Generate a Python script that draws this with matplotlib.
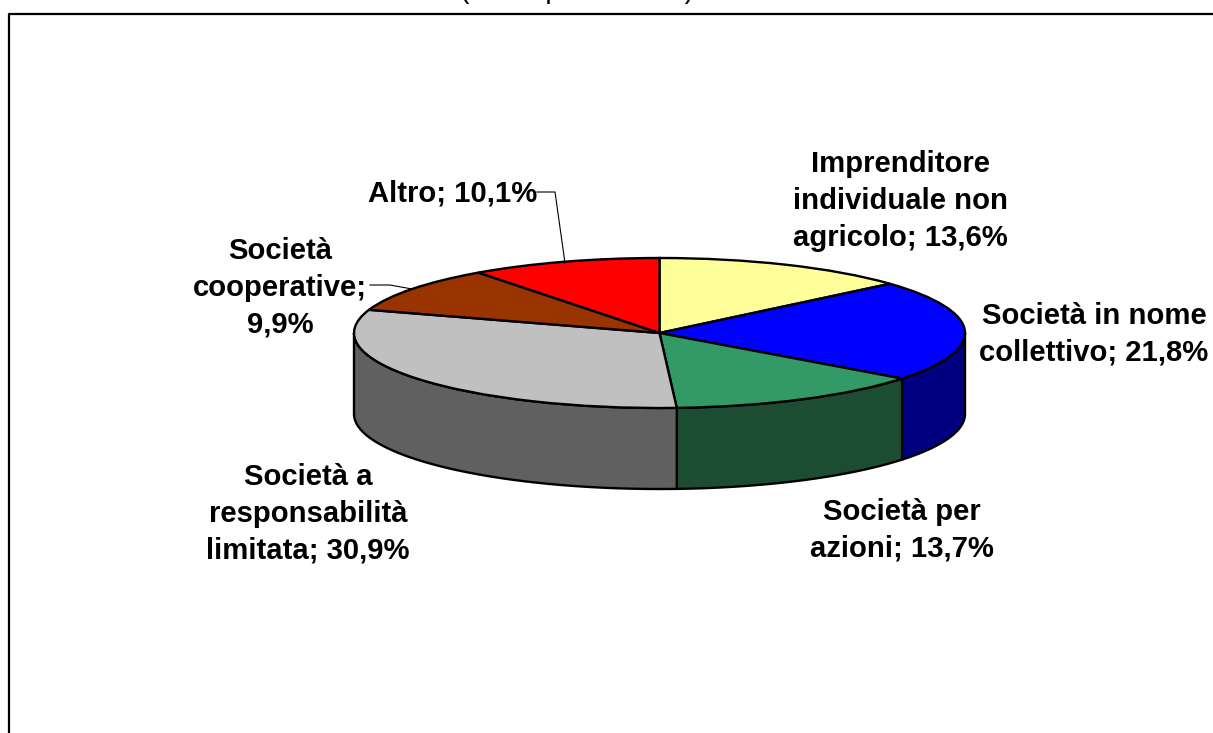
import numpy as np
import matplotlib
matplotlib.use("Agg")
import matplotlib.pyplot as plt

labels = ["Imprenditore\nindividuale non\nagricolo; 13,6%",
          "Società in nome\ncollettivo; 21,8%",
          "Società per\nazioni; 13,7%",
          "Società a\nresponsabilità\nlimitata; 30,9%",
          "Società\ncooperative;\n9,9%",
          "Altro; 10,1%"]
values = [13.6, 21.8, 13.7, 30.9, 9.9, 10.1]
top_colors = ["#FFFF99", "#0000FF", "#339966", "#C0C0C0", "#993300", "#FF0000"]
side_colors = ["#80804D", "#000080", "#1C4D33", "#606060", "#4D1A00", "#800000"]

# pixel positions of the labels (centre of each block)
label_x = [900, 1094, 902, 308, 280, 453]
label_y = [201, 334, 530, 514, 288, 194]

W, H = 1213, 733
cx, cy = 659.5, 333
rx, ry = 305.5, 75
depth = 81
label_px = 29.2

fig = plt.figure(figsize=(W / 100, H / 100), dpi=100)
ax = fig.add_axes([0, 0, 1, 1])
plt.rcParams["font.family"] = "Liberation Sans"

ax.pie(values, colors=top_colors, startangle=90, counterclock=False,
       wedgeprops=dict(edgecolor="black", linewidth=1.7, zorder=5))
ax.set_aspect("auto")
ax.set_xlim(-cx / rx, (W - cx) / rx)
ax.set_ylim((cy - H) / ry, cy / ry)
ax.set_frame_on(False)
ax.set_xticks([])
ax.set_yticks([])

# side wall: only the front half of the rim shows
edges = np.concatenate([[0], np.cumsum(values)]) / np.sum(values) * 360
d = depth / ry
for i in range(len(values)):
    a0, a1 = max(edges[i], 90), min(edges[i + 1], 270)
    if a1 <= a0:
        continue
    a = np.radians(np.linspace(a0, a1, 80))
    x, y = np.sin(a), np.cos(a)
    ax.fill(np.r_[x, x[::-1]], np.r_[y, y[::-1] - d], facecolor=side_colors[i],
            edgecolor="black", linewidth=1.7, zorder=3)


def px(x, y):
    return (x - cx) / rx, (cy - y) / ry


for t, x, y in zip(labels, label_x, label_y):
    ax.text(*px(x, y), t, ha="center", va="center", fontsize=label_px * 72 / 100,
            fontweight="bold", family="Liberation Sans", linespacing=1.395, zorder=7)

# leader lines
ax.plot(*zip(px(537, 192), px(555, 192), px(565, 263)), color="black", lw=0.8, zorder=6)
ax.plot(*zip(px(370, 285), px(390, 285), px(412, 289)), color="black", lw=0.8, zorder=6)

# frame of the chart area, runs off the bottom of the picture
ax.plot(*zip(px(9, H + 5), px(9, 14), px(W + 5, 14)), color="black", lw=1.6, zorder=6)

# title is cut by the top edge of the picture, only the descenders show
ax.text(*px(460, -2), "(valori percentuali)", ha="left", va="baseline",
        fontsize=28.5 * 72 / 100, family="Liberation Sans", zorder=7)

fig.savefig("out.png", dpi=100)
